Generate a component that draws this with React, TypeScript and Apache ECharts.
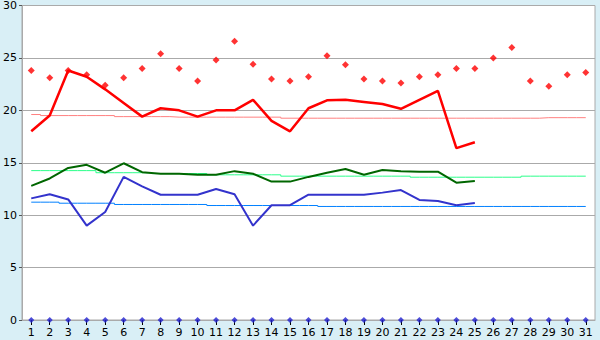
import React, { useEffect, useRef } from "react";
import * as echarts from "echarts";

const days: string[] = Array.from({ length: 31 }, (_, i) => String(i + 1));

const maxPoints: number[] = [23.8, 23.1, 23.8, 23.4, 22.4, 23.1, 24.0, 25.4, 24.0, 22.8, 24.8, 26.6, 24.4, 23.0, 22.8, 23.2, 25.2, 24.35, 23.0, 22.8, 22.6, 23.2, 23.4, 24.0, 24.0, 25.0, 26.0, 22.8, 22.3, 23.4, 23.6];
const redLine: (number | null)[] = [18.0, 19.5, 23.8, 23.2, 22.0, 20.7, 19.4, 20.2, 20.0, 19.4, 20.0, 20.0, 21.0, 19.0, 18.0, 20.2, 20.95, 21.0, 20.8, 20.6, 20.15, 21.0, 21.85, 16.4, 16.95];
const redAvg: number[] = [19.6, 19.5, 19.5, 19.5, 19.5, 19.4, 19.4, 19.4, 19.35, 19.35, 19.35, 19.35, 19.35, 19.35, 19.25, 19.25, 19.25, 19.25, 19.25, 19.25, 19.25, 19.25, 19.25, 19.25, 19.25, 19.25, 19.25, 19.25, 19.3, 19.3, 19.3];
const greenLine: (number | null)[] = [12.8, 13.5, 14.5, 14.8, 14.05, 14.95, 14.1, 13.95, 13.95, 13.85, 13.85, 14.2, 13.95, 13.2, 13.2, 13.65, 14.05, 14.4, 13.85, 14.3, 14.2, 14.15, 14.15, 13.1, 13.25];
const greenAvg: number[] = [14.25, 14.25, 14.25, 14.25, 14.05, 14.05, 14.05, 13.97, 13.97, 13.97, 13.85, 13.85, 13.85, 13.85, 13.72, 13.72, 13.72, 13.72, 13.72, 13.72, 13.72, 13.62, 13.62, 13.62, 13.62, 13.62, 13.62, 13.72, 13.72, 13.72, 13.72];
const blueLine: (number | null)[] = [11.6, 12.0, 11.5, 9.0, 10.3, 13.65, 12.75, 11.95, 11.95, 11.95, 12.5, 12.0, 9.0, 10.95, 10.95, 11.95, 11.95, 11.95, 11.95, 12.15, 12.4, 11.45, 11.35, 10.95, 11.15];
const blueAvg: number[] = [11.24, 11.24, 11.14, 11.14, 11.14, 11.02, 11.02, 11.02, 11.02, 11.02, 10.92, 10.92, 10.92, 10.92, 10.92, 10.92, 10.83, 10.83, 10.83, 10.83, 10.83, 10.83, 10.83, 10.83, 10.83, 10.83, 10.83, 10.83, 10.83, 10.83, 10.83];
const zeroPoints: number[] = Array.from({ length: 31 }, () => 0);

export default function App() {
  const ref = useRef<HTMLDivElement>(null);
  useEffect(() => {
    if (!ref.current) return;
    const chart = echarts.init(ref.current, null, { renderer: "svg" });
    const thin = (data: number[], color: string) => ({
      type: "line",
      data,
      step: "middle",
      symbol: "none",
      lineStyle: { color, width: 1 },
      z: 2,
      silent: true,
    });
    const thick = (data: (number | null)[], color: string, width: number) => ({
      type: "line",
      data,
      symbol: "none",
      lineStyle: { color, width },
      z: 3,
      silent: true,
    });
    chart.setOption({
      animation: false,
      backgroundColor: "#d9eff6",
      grid: {
        left: 20.5,
        right: 5,
        top: 5,
        bottom: 20,
        show: true,
        backgroundColor: "#ffffff",
        borderColor: "#aaaaaa",
        borderWidth: 1,
      },
      xAxis: {
        type: "category",
        data: days,
        boundaryGap: true,
        axisLine: { lineStyle: { color: "#aaaaaa" } },
        axisTick: { show: true, alignWithLabel: true, length: 5, lineStyle: { color: "#000000" } },
        axisLabel: { color: "#000000", fontFamily: "DejaVu Sans", fontSize: 11, margin: 7, interval: 0 },
        splitLine: { show: false },
      },
      yAxis: {
        type: "value",
        min: 0,
        max: 30,
        interval: 5,
        axisLine: { show: true, lineStyle: { color: "#aaaaaa" } },
        axisTick: { show: true, length: 3, lineStyle: { color: "#555555" } },
        axisLabel: { color: "#000000", fontFamily: "DejaVu Sans", fontSize: 11, margin: 5 },
        splitLine: { show: true, lineStyle: { color: "#aaaaaa", width: 1 } },
      },
      series: [
        thin(redAvg, "#ff8080"),
        thin(greenAvg, "#2bff8a"),
        thin(blueAvg, "#0080ff"),
        thick(greenLine, "#006600", 2),
        thick(blueLine, "#3333cc", 2),
        thick(redLine, "#ff0000", 2.5),
        {
          type: "scatter",
          data: maxPoints,
          symbol: "diamond",
          symbolSize: 7,
          itemStyle: { color: "#ff0000" },
          z: 4,
          silent: true,
        },
        {
          type: "scatter",
          data: zeroPoints,
          symbol: "diamond",
          symbolSize: 6,
          itemStyle: { color: "#2020d0" },
          z: 4,
          silent: true,
        },
      ],
    });
    return () => chart.dispose();
  }, []);
  return <div ref={ref} style={{ width: 600, height: 340, position: "absolute", left: 0, top: 0 }} />;
}
